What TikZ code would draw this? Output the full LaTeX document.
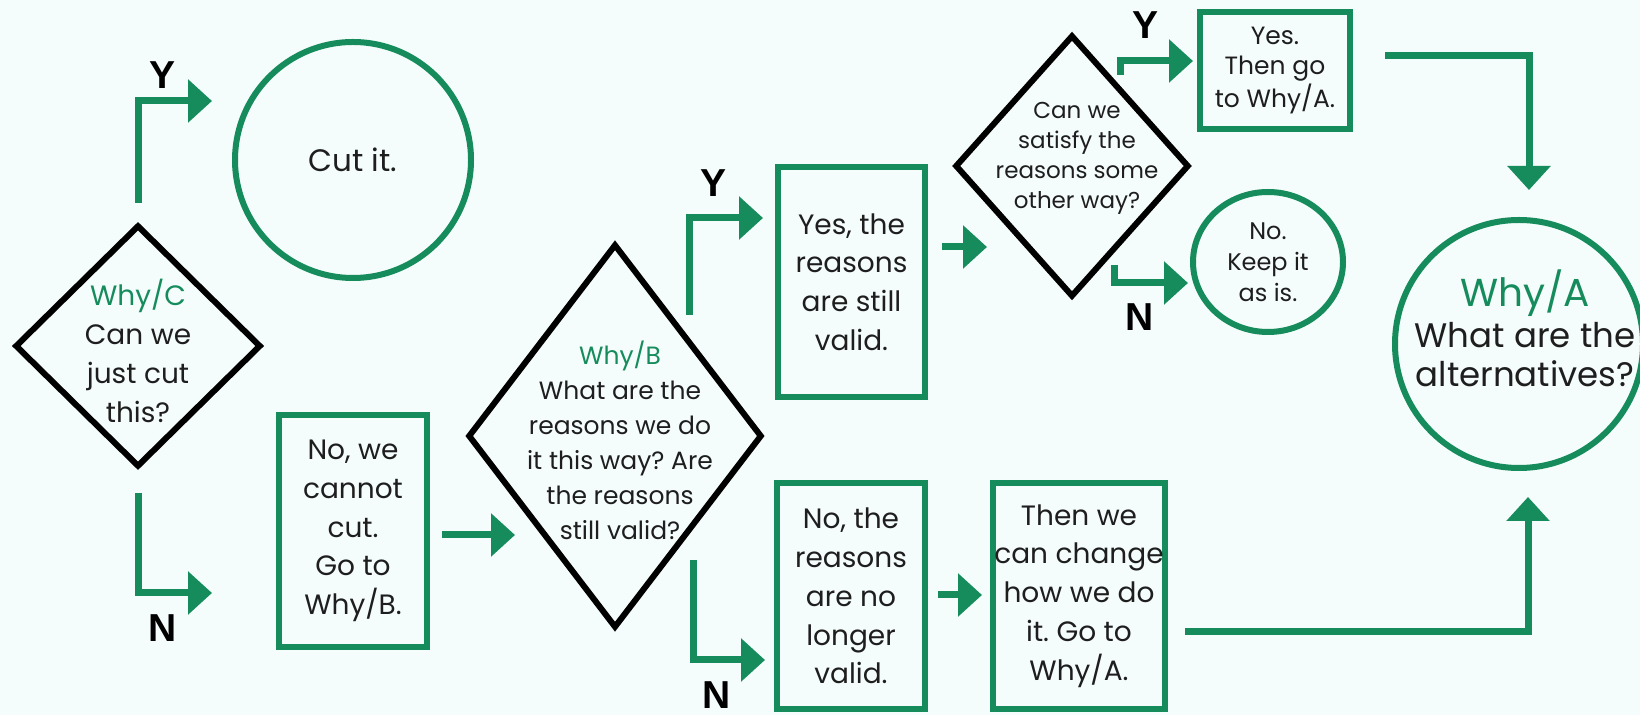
\documentclass[tikz,border=0pt]{standalone}
\usepackage{fontspec}
\setmainfont{Poppins}
\newfontfamily\labfont{Liberation Sans}
\usetikzlibrary{arrows.meta,shapes.geometric}
\definecolor{fcgreen}{RGB}{22,140,92}
\definecolor{bgc}{RGB}{245,252,252}
\definecolor{txt}{RGB}{30,30,30}
\frenchspacing
\begin{document}
\begin{tikzpicture}[x=0.5pt,y=-0.5pt,text=txt,
  greenbox/.style={draw=fcgreen,line width=3pt,rectangle,inner sep=0pt,align=center},
  greenround/.style={draw=fcgreen,line width=3pt,inner sep=0pt,align=center},
  diam/.style={draw=black,line width=3pt,diamond,inner sep=0pt},
  dtext/.style={align=center,inner sep=0pt},
  boxfont/.style={font=\fontsize{14}{19.4}\selectfont},
  lab/.style={font=\labfont\bfseries\fontsize{19.5}{20}\selectfont,inner sep=0pt,text=black},
  flow/.style={draw=fcgreen,line width=3.5pt,line join=miter,-{Triangle[length=12pt,width=21pt]}}
]
\fill[bgc] (0,0) rectangle (1640,715);
\useasboundingbox (0,0) rectangle (1640,715);

% ---- Why/C ----
\node[diam,minimum width=123pt,minimum height=121pt] (whyC) at (138,346) {};
\node[dtext,font=\fontsize{14}{19.5}\selectfont] (whyCt) at (138,351)
  {\textcolor{fcgreen}{Why/C}\\Can we\\just cut\\this?};

\node[greenround,circle,minimum size=118pt,font=\fontsize{15.5}{18}\selectfont] (cut) at (353,160) {Cut it.};

\node[greenbox,boxfont,minimum width=74pt,minimum height=116pt] (cannot) at (353,531)
  {No, we\\cannot\\cut.\\Go to\\Why/B.};

% ---- Why/B ----
\node[diam,minimum width=147pt,minimum height=192pt] (whyB) at (615,436) {};
\node[dtext,font=\fontsize{12.5}{17.5}\selectfont] (whyBt) at (620,440)
  {\textcolor{fcgreen}{Why/B}\\What are the\\reasons we do\\it this way? Are\\the reasons\\still valid?};

\node[greenbox,boxfont,minimum width=73.5pt,minimum height=115pt] (yesr) at (851.5,282)
  {Yes, the\\reasons\\are still\\valid.};
\node[greenbox,boxfont,minimum width=74pt,minimum height=113pt] (nor) at (851,596)
  {No, the\\reasons\\are no\\longer\\valid.};
\node[greenbox,boxfont,minimum width=86pt,minimum height=113pt] (thenb) at (1079,596)
  {Then we\\can change\\how we do\\it. Go to\\Why/A.};

% ---- satisfy ----
\node[diam,minimum width=117pt,minimum height=131pt] (sat) at (1072,166) {};
\node[dtext,font=\fontsize{11.5}{15}\selectfont] (satt) at (1077,158)
  {Can we\\satisfy the\\reasons some\\other way?};

\node[greenbox,minimum width=75pt,minimum height=58.5pt,font=\fontsize{12.5}{15}\selectfont] (yesthen) at (1275,70.5)
  {Yes.\\Then go\\to Why/A.};
\node[greenround,ellipse,minimum width=75pt,minimum height=70pt,font=\fontsize{12}{15.5}\selectfont] (keep) at (1268,262)
  {No.\\Keep it\\as is.};

% ---- Why/A ----
\node[greenround,circle,minimum size=124pt] (whyA) at (1519,344) {};
\node[dtext,font=\fontsize{17}{19.5}\selectfont] (whyAt) at (1525,328)
  {{\fontsize{19.5}{20}\selectfont\textcolor{fcgreen}{Why/A}}\\[1pt]What are the\\alternatives?};

% ---- labels ----
\node[lab] (ly1) at (163,75) {Y};
\node[lab] (ln1) at (163,628) {N};
\node[lab] (ly2) at (713,183) {Y};
\node[lab] (ln2) at (717,695) {N};
\node[lab] (ly3) at (1145,25) {Y};
\node[lab] (ln3) at (1140,317) {N};

% ---- connector end points ----
\coordinate (y1a) at (138,203);  \coordinate (y1b) at (212,101);
\coordinate (n1a) at (138,493);  \coordinate (n1b) at (212,593);
\coordinate (cba) at (442,535);  \coordinate (cbb) at (515,535);
\coordinate (y2a) at (689,315);  \coordinate (y2b) at (763,218);
\coordinate (n2a) at (693,560);  \coordinate (n2b) at (765,660);
\coordinate (ysa) at (942,247);  \coordinate (ysb) at (987,247);
\coordinate (y3a) at (1120,75);  \coordinate (y3b) at (1193,61);
\coordinate (n3a) at (1114,265); \coordinate (n3b) at (1188,283);
\coordinate (nta) at (938,595);  \coordinate (ntb) at (982,595);
\coordinate (yaa) at (1385,56);  \coordinate (yab) at (1529,190);
\coordinate (taa) at (1185,632); \coordinate (tab) at (1528,497);

\draw[flow] (y1a) |- (y1b);
\draw[flow] (n1a) |- (n1b);
\draw[flow] (cba) -- (cbb);
\draw[flow] (y2a) |- (y2b);
\draw[flow] (n2a) |- (n2b);
\draw[flow] (ysa) -- (ysb);
\draw[flow] (y3a) |- (y3b);
\draw[flow] (n3a) |- (n3b);
\draw[flow] (nta) -- (ntb);
\draw[flow] (yaa) -| (yab);
\draw[flow] (taa) -| (tab);
\end{tikzpicture}
\end{document}
